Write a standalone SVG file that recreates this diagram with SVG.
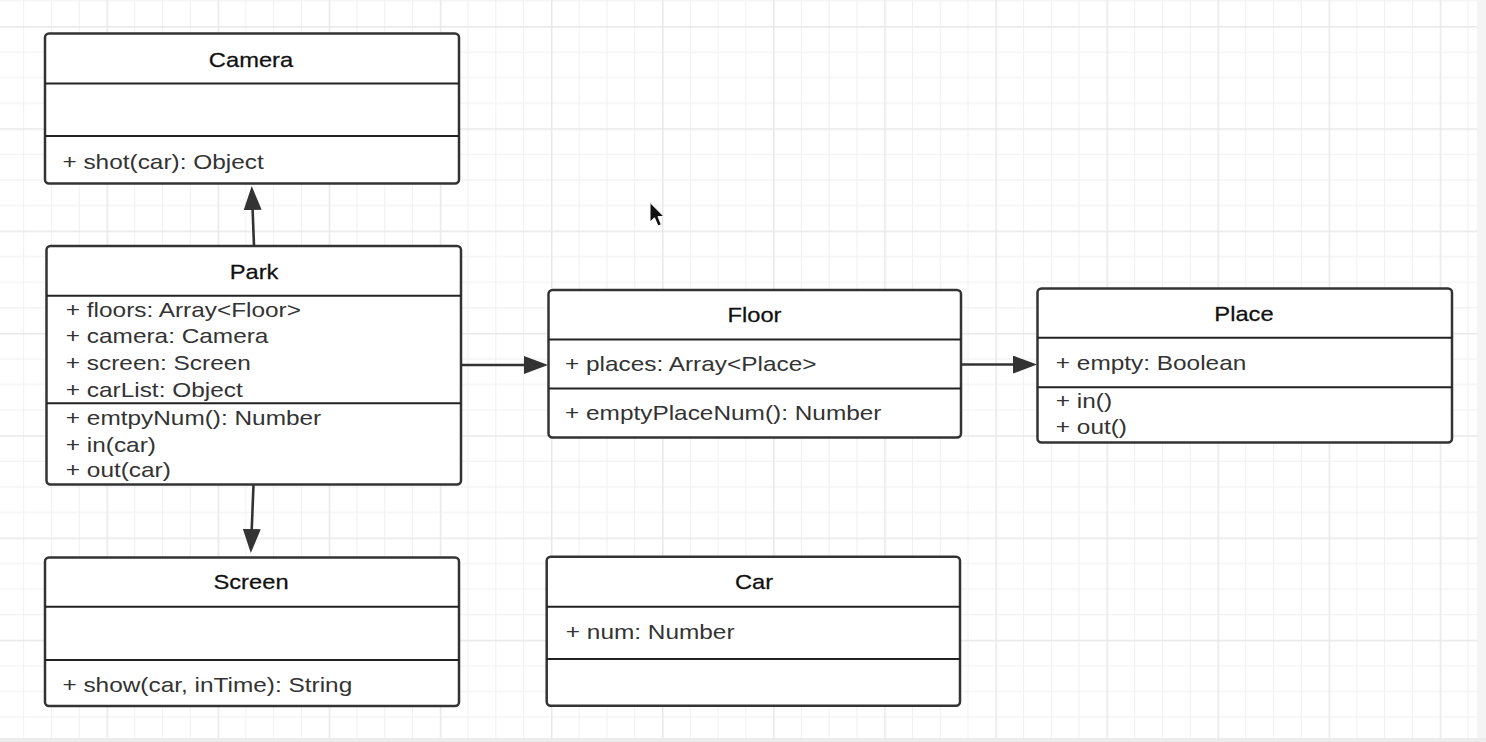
<svg xmlns="http://www.w3.org/2000/svg" width="1486" height="742" viewBox="0 0 1486 742">
<style>
.box{fill:#fff;stroke:#333;stroke-width:2.5}
.div{stroke:#222;stroke-width:2}
.h{font-family:"Liberation Sans",Arial,sans-serif;font-size:21px;fill:#111;stroke:#111;stroke-width:0.25;text-anchor:middle}
.b{font-family:"Liberation Sans",Arial,sans-serif;font-size:20px;fill:#333}
.edge{fill:none;stroke:#333;stroke-width:2.6;marker-end:url(#arr)}
</style>
<defs>
<pattern id="grid" patternUnits="userSpaceOnUse" x="106.5" y="26" width="111.1" height="102.3">
<rect x="27.775" y="0" width="1" height="102.3" fill="#f0f0f0"/>
<rect x="55.55" y="0" width="1" height="102.3" fill="#f0f0f0"/>
<rect x="83.325" y="0" width="1" height="102.3" fill="#f0f0f0"/>
<rect x="0" y="25.575" width="111.1" height="1" fill="#f0f0f0"/>
<rect x="0" y="51.15" width="111.1" height="1" fill="#f0f0f0"/>
<rect x="0" y="76.725" width="111.1" height="1" fill="#f0f0f0"/>
<rect x="0" y="0" width="1.5" height="102.3" fill="#e8e8e8"/>
<rect x="0" y="0" width="111.1" height="1.5" fill="#e8e8e8"/>
</pattern>
<marker id="arr" markerUnits="userSpaceOnUse" viewBox="0 0 24 18" refX="14" refY="9" markerWidth="24" markerHeight="18" orient="auto">
<path d="M0,0 L24,9 L0,18 Z" fill="#333"/>
</marker>
</defs>
<rect width="1486" height="742" fill="#fff"/>
<rect width="1477" height="738" fill="url(#grid)"/>
<rect x="1477" y="0" width="9" height="742" fill="#f4f4f4"/>
<rect x="0" y="738" width="1486" height="4" fill="#ececec"/>

<g id="connectors">
<path class="edge" d="M254,246 L252.1,196"/>
<path class="edge" d="M253.5,484.5 L251.2,543"/>
<path class="edge" d="M462,365 L538,365"/>
<path class="edge" d="M962,364.5 L1027,364.5"/>
</g>

<g id="camera">
<rect class="box" x="45" y="33.5" width="414" height="150" rx="4"/>
<line class="div" x1="45" y1="83.5" x2="459" y2="83.5"/>
<line class="div" x1="45" y1="136" x2="459" y2="136"/>
<text class="h" transform="translate(251,66.7) scale(1.13,1)">Camera</text>
<text class="b" transform="translate(62.4,169) scale(1.22,1)">+ shot(car): Object</text>
</g>

<g id="park">
<rect class="box" x="46.5" y="246" width="414.5" height="238.5" rx="4"/>
<line class="div" x1="46.5" y1="295.7" x2="461" y2="295.7"/>
<line class="div" x1="46.5" y1="403.3" x2="461" y2="403.3"/>
<text class="h" transform="translate(254,279) scale(1.13,1)">Park</text>
<text class="b" transform="translate(65.8,316.7) scale(1.22,1)">+ floors: Array&lt;Floor&gt;</text>
<text class="b" transform="translate(65.8,343.3) scale(1.22,1)">+ camera: Camera</text>
<text class="b" transform="translate(65.8,370) scale(1.22,1)">+ screen: Screen</text>
<text class="b" transform="translate(65.8,396.7) scale(1.22,1)">+ carList: Object</text>
<text class="b" transform="translate(65.8,425) scale(1.22,1)">+ emtpyNum(): Number</text>
<text class="b" transform="translate(65.8,451.7) scale(1.22,1)">+ in(car)</text>
<text class="b" transform="translate(65.8,477.3) scale(1.22,1)">+ out(car)</text>
</g>

<g id="floor">
<rect class="box" x="548.5" y="290" width="412.5" height="147.5" rx="4"/>
<line class="div" x1="548.5" y1="339.5" x2="961" y2="339.5"/>
<line class="div" x1="548.5" y1="388.5" x2="961" y2="388.5"/>
<text class="h" transform="translate(754.5,321.7) scale(1.13,1)">Floor</text>
<text class="b" transform="translate(565,370.7) scale(1.22,1)">+ places: Array&lt;Place&gt;</text>
<text class="b" transform="translate(565,420) scale(1.22,1)">+ emptyPlaceNum(): Number</text>
</g>

<g id="place">
<rect class="box" x="1037.5" y="288.5" width="414.5" height="154" rx="4"/>
<line class="div" x1="1037.5" y1="337.7" x2="1452" y2="337.7"/>
<line class="div" x1="1037.5" y1="387.3" x2="1452" y2="387.3"/>
<text class="h" transform="translate(1244,320.7) scale(1.13,1)">Place</text>
<text class="b" transform="translate(1055.8,370) scale(1.22,1)">+ empty: Boolean</text>
<text class="b" transform="translate(1055.8,408.3) scale(1.22,1)">+ in()</text>
<text class="b" transform="translate(1055.8,434) scale(1.22,1)">+ out()</text>
</g>

<g id="screen">
<rect class="box" x="45" y="557.5" width="414" height="148.5" rx="4"/>
<line class="div" x1="45" y1="606.7" x2="459" y2="606.7"/>
<line class="div" x1="45" y1="660" x2="459" y2="660"/>
<text class="h" transform="translate(251,589.3) scale(1.13,1)">Screen</text>
<text class="b" transform="translate(62.4,691.7) scale(1.22,1)">+ show(car, inTime): String</text>
</g>

<g id="car">
<rect class="box" x="546.7" y="556.7" width="413.3" height="149" rx="4"/>
<line class="div" x1="546.7" y1="606.7" x2="960" y2="606.7"/>
<line class="div" x1="546.7" y1="659" x2="960" y2="659"/>
<text class="h" transform="translate(754,589.3) scale(1.13,1)">Car</text>
<text class="b" transform="translate(565.8,639) scale(1.22,1)">+ num: Number</text>
</g>

<g id="cursor">
<path d="M650,202.5 L650,222 L654.5,217.8 L658,226 L661.3,224.6 L658,216.6 L664,216.6 Z" fill="#111" stroke="#fff" stroke-width="1"/>
</g>
</svg>
